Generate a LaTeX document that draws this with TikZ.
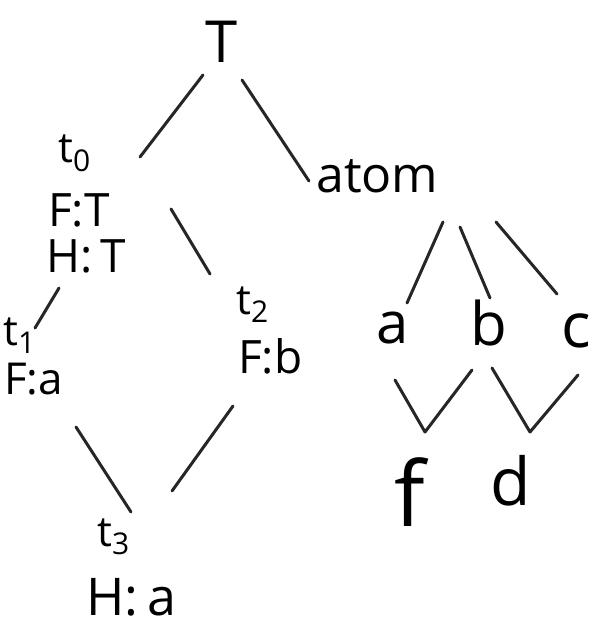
\documentclass[tikz,border=0pt]{standalone}
\usepackage{fontspec}
\setmainfont{Open Sans}
\newcommand{\fs}[1]{\fontsize{#1}{#1}\selectfont}
\newcommand{\sub}[1]{\raisebox{-0.2em}{\fs{30}#1}}
\begin{document}
\begin{tikzpicture}[x=1pt,y=-1pt,
  lbl/.style={inner sep=0pt,anchor=base west,font=\fs{40}},
  edge/.style={line width=3pt,line cap=round,black!85}]
\useasboundingbox (0,0) rectangle (605,631);
\fill[white] (0,0) rectangle (605,631);

% labels
\node[lbl,anchor=base,font=\fs{58}] (T) at (222,63) {T};
\node[lbl,font=\fs{42}] (t0) at (58,163) {t\sub{0}};
\node[lbl,font=\fs{46}] (t0F) at (48,226) {F:T};
\node[lbl,font=\fs{46}] (t0H) at (46,272) {H:\,T};
\node[lbl,font=\fs{42}] (t1) at (3,345) {t\sub{1}};
\node[lbl,font=\fs{44}] (t1F) at (4,394) {F:a};
\node[lbl,font=\fs{42}] (t2) at (236,314) {t\sub{2}};
\node[lbl,font=\fs{46}] (t2F) at (238,373) {F:b};
\node[lbl,font=\fs{42}] (t3) at (97,546) {t\sub{3}};
\node[lbl,font=\fs{52}] (t3H) at (86,615) {H:\,a};
\node[lbl,font=\fs{50}] (atom) at (316,193) {atom};
\node[lbl,anchor=base,font=\fs{58}] (a) at (393,343) {a};
\node[lbl,anchor=base,font=\fs{60}] (b) at (489,345) {b};
\node[lbl,anchor=base,font=\fs{62}] (c) at (576,347) {c};
\node[lbl,anchor=base,font=\fs{90}] (f) at (410,526) {f};
\node[lbl,anchor=base,font=\fs{66}] (d) at (511,505) {d};

% connector end points
\coordinate (Tl) at (203,75);   \coordinate (t0r) at (140,157);
\coordinate (Tr) at (242,80);   \coordinate (atoml) at (309,181);
\coordinate (t0a) at (171,209); \coordinate (t2a) at (210,274);
\coordinate (t0b) at (59,288);  \coordinate (t1a) at (35,328);
\coordinate (t1b) at (76,427);  \coordinate (t3a) at (131,512);
\coordinate (t2b) at (233,406); \coordinate (t3b) at (172,491);
\coordinate (atA) at (443,222); \coordinate (aT) at (407,303);
\coordinate (atB) at (460,227); \coordinate (bT) at (490,298);
\coordinate (atC) at (496,222); \coordinate (cT) at (557,294);
\coordinate (aB) at (395,380);  \coordinate (fT) at (425,432);
\coordinate (bB) at (472,370);
\coordinate (bC) at (492,368);  \coordinate (dT) at (530,432);
\coordinate (cB) at (578,375);

% connectors
\draw[edge] (Tl) -- (t0r);
\draw[edge] (Tr) -- (atoml);
\draw[edge] (t0a) -- (t2a);
\draw[edge] (t0b) -- (t1a);
\draw[edge] (t1b) -- (t3a);
\draw[edge] (t2b) -- (t3b);
\draw[edge] (atA) -- (aT);
\draw[edge] (atB) -- (bT);
\draw[edge] (atC) -- (cT);
\draw[edge,line join=round] (aB) -- (fT) -- (bB);
\draw[edge,line join=round] (bC) -- (dT) -- (cB);
\end{tikzpicture}
\end{document}
